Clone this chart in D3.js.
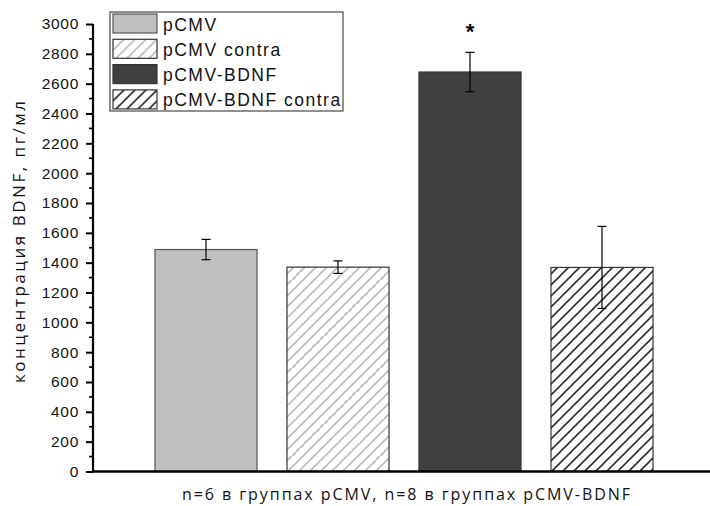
<!DOCTYPE html>
<html>
<head>
	<meta charset="utf-8">
	<script src="https://cdnjs.cloudflare.com/ajax/libs/d3/7.8.5/d3.min.js"></script>
	<style type="text/css">
		body { margin: 0; background: #fff; }
		text { font-family: "Liberation Sans", Arial, sans-serif; }
		.calib { font-family: "Open Sans", sans-serif; }
	</style>
</head>
<body>
	<script type="text/javascript">

		let groups = ['pCMV', 'pCMV contra', 'pCMV-BDNF', 'pCMV-BDNF contra'];
		let means = [1488, 1370, 2678, 1368];
		let errors = [68, 42, 132, 275];
		let yTicks = d3.range(0, 3001, 200);
		let xLabel = 'n=6 в группах pCMV, n=8 в группах pCMV-BDNF';
		let yLabel = 'концентрация BDNF, пг/мл';

		let svg = d3.select('body').append('svg')
			.attr('width', 710)
			.attr('height', 506);

		// hatch patterns
		let defs = svg.append('defs');
		function hatch(id, color){
			let p = defs.append('pattern')
				.attr('id', id)
				.attr('patternUnits', 'userSpaceOnUse')
				.attr('width', 11)
				.attr('height', 11);
			p.append('rect').attr('width', 11).attr('height', 11).attr('fill', '#fff');
			p.append('path')
				.attr('d', 'M-1,12 L12,-1 M-6,6 L6,-6 M5,17 L17,5')
				.attr('stroke', color)
				.attr('stroke-width', 1.6);
		}
		hatch('hatchLight', '#bcbcbc');
		hatch('hatchDark', '#303030');

		let fills = ['#c0c0c0', 'url(#hatchLight)', '#404040', 'url(#hatchDark)'];
		let strokes = ['#555', '#333', '#333', '#333'];

		let xScale = d3.scaleBand().domain(groups).range([140, 668])
			.paddingInner(0.227).paddingOuter(0.1135);
		let yScale = d3.scaleLinear().domain([0, 3000]).range([471.5, 24]);

		// bars
		svg.selectAll('rect.bar').data(groups).enter().append('rect')
			.attr('class', 'bar')
			.attr('x', d => xScale(d))
			.attr('y', (d, i) => yScale(means[i]))
			.attr('width', xScale.bandwidth())
			.attr('height', (d, i) => yScale(0) - yScale(means[i]))
			.attr('fill', (d, i) => fills[i])
			.attr('stroke', (d, i) => strokes[i])
			.attr('stroke-width', 1.2);

		// error bars
		let eb = svg.selectAll('g.err').data(groups).enter().append('g')
			.attr('class', 'err')
			.attr('stroke', '#000')
			.attr('stroke-width', 1.2);
		eb.append('line')
			.attr('x1', d => xScale(d) + xScale.bandwidth() / 2)
			.attr('x2', d => xScale(d) + xScale.bandwidth() / 2)
			.attr('y1', (d, i) => yScale(means[i] + errors[i]))
			.attr('y2', (d, i) => yScale(means[i] - errors[i]));
		[1, -1].forEach(s => {
			eb.append('line')
				.attr('x1', d => xScale(d) + xScale.bandwidth() / 2 - 4.5)
				.attr('x2', d => xScale(d) + xScale.bandwidth() / 2 + 4.5)
				.attr('y1', (d, i) => yScale(means[i] + s * errors[i]))
				.attr('y2', (d, i) => yScale(means[i] + s * errors[i]));
		});

		// significance mark
		svg.append('text')
			.attr('x', xScale('pCMV-BDNF') + xScale.bandwidth() / 2)
			.attr('y', 39)
			.attr('text-anchor', 'middle')
			.attr('font-size', 22)
			.attr('font-weight', 'bold')
			.text('*');

		// y axis
		let yAxis = d3.axisLeft(yScale).tickValues(yTicks).tickFormat(d3.format('d'))
			.tickSize(7).tickPadding(7);
		let gy = svg.append('g').attr('transform', 'translate(93,0)').call(yAxis);
		gy.select('.domain').attr('stroke-width', 2.2).attr('d', 'M0,' + yScale(3000) + 'V' + yScale(0));
		gy.selectAll('.tick line').attr('stroke-width', 2);
		gy.selectAll('.tick text').attr('font-size', 15.5).attr('fill', '#111')
			.attr('letter-spacing', 0.7)
			.style('font-family', '"Liberation Sans", Arial, sans-serif');
		let minor = d3.range(100, 3000, 200);
		gy.selectAll('line.minor').data(minor).enter().append('line')
			.attr('class', 'minor')
			.attr('x1', -4).attr('x2', 0)
			.attr('y1', d => yScale(d)).attr('y2', d => yScale(d))
			.attr('stroke', '#000').attr('stroke-width', 1.6);

		// x axis line
		svg.append('line')
			.attr('x1', 92).attr('x2', 710)
			.attr('y1', yScale(0)).attr('y2', yScale(0))
			.attr('stroke', '#000').attr('stroke-width', 2.4);

		// axis titles
		svg.append('text')
			.attr('class', 'calib')
			.attr('x', 406).attr('y', 500)
			.attr('text-anchor', 'middle')
			.attr('font-size', 16)
			.attr('textLength', 448)
			.attr('lengthAdjust', 'spacing')
			.attr('fill', '#111')
			.text(xLabel);
		svg.append('text')
			.attr('class', 'calib')
			.attr('transform', 'translate(25,242) rotate(-90)')
			.attr('text-anchor', 'middle')
			.attr('font-size', 17)
			.attr('textLength', 282)
			.attr('lengthAdjust', 'spacing')
			.attr('fill', '#111')
			.text(yLabel);

		// legend
		let lg = svg.append('g');
		lg.append('rect')
			.attr('x', 110).attr('y', 12).attr('width', 233).attr('height', 99)
			.attr('fill', '#fff').attr('stroke', '#222').attr('stroke-width', 1);
		let items = lg.selectAll('g.item').data(groups).enter().append('g')
			.attr('class', 'item')
			.attr('transform', (d, i) => 'translate(113,' + (14 + i * 25.3) + ')');
		items.append('rect')
			.attr('width', 44).attr('height', 19)
			.attr('fill', (d, i) => fills[i])
			.attr('stroke', (d, i) => strokes[i])
			.attr('stroke-width', 1.2);
		items.append('text')
			.attr('x', 50).attr('y', 16.5)
			.attr('font-size', 17.5)
			.attr('letter-spacing', 1.5)
			.attr('fill', '#111')
			.text(d => d);
	</script>
</body>
</html>
